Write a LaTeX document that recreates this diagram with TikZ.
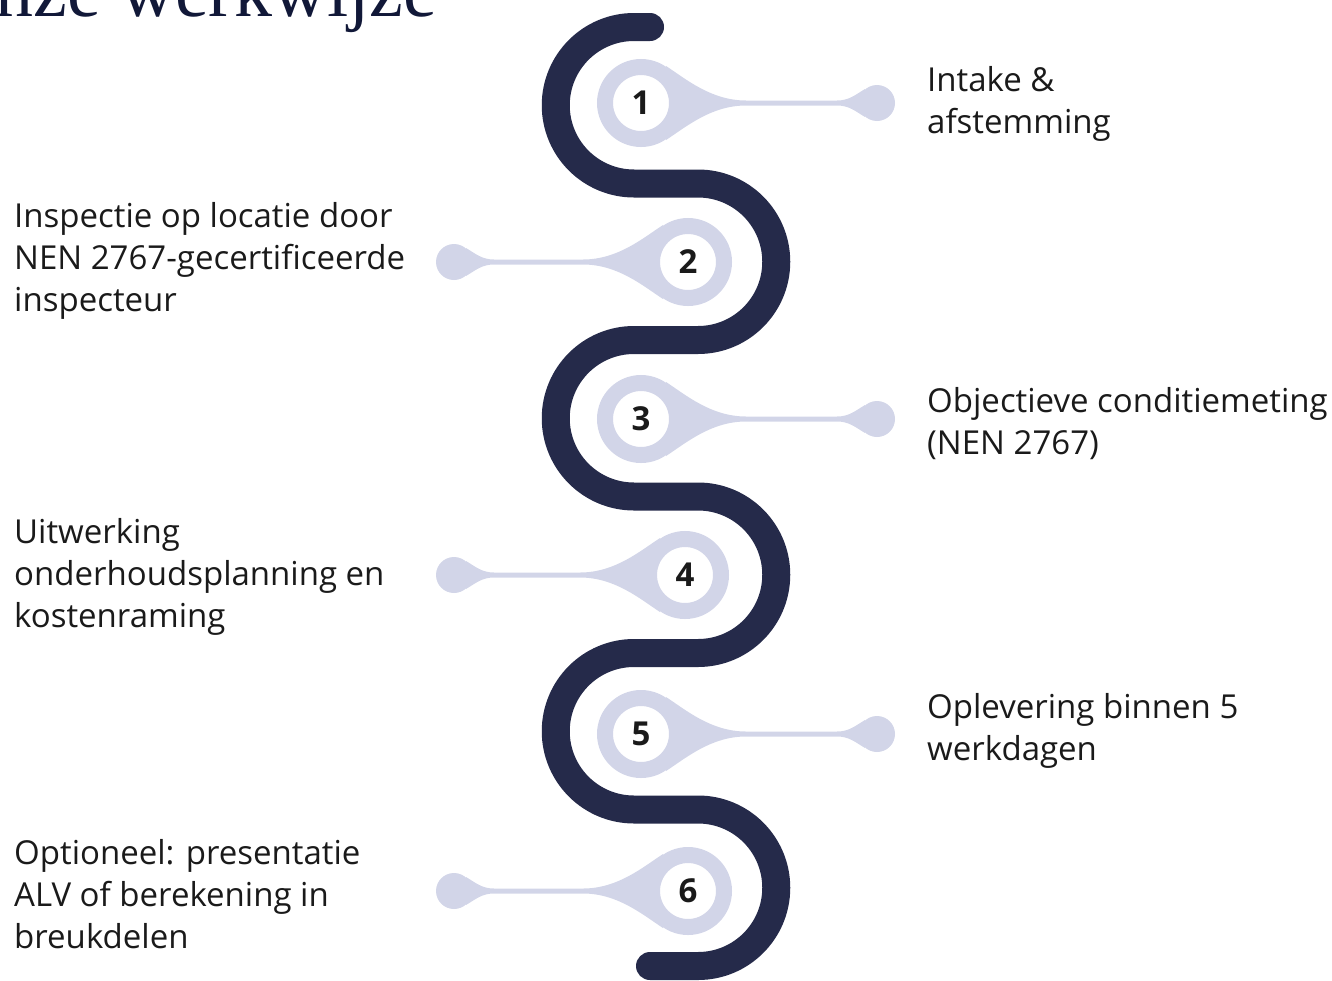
\documentclass[tikz,border=0pt]{standalone}
\usepackage{fontspec}
\setmainfont{Open Sans}
\newfontfamily\titlefont{Liberation Serif}
\usetikzlibrary{calc,backgrounds}
\definecolor{snakenavy}{RGB}{37,42,74}
\definecolor{ringlav}{RGB}{210,213,232}
\definecolor{textblack}{RGB}{26,26,26}
\definecolor{titlenavy}{RGB}{17,24,56}

\begin{document}
\begin{tikzpicture}[
  x=1pt, y=-1pt,
  snake/.style={line width=28pt, color=snakenavy, line cap=round},
  stepring/.style={circle, draw=ringlav, line width=16pt, fill=white, minimum size=72pt,
                   inner sep=0pt, font=\fontsize{33}{36}\selectfont\bfseries, text=textblack},
  blob/.style={circle, fill=ringlav, minimum size=36pt, inner sep=0pt},
  taper/.style={fill=ringlav},
  steptext/.style={anchor=west, align=left, inner sep=0pt,
                   font=\fontsize{33}{42}\selectfont, text=textblack}
]
\useasboundingbox (0,0) rectangle (1332,980);
\clip (0,0) rectangle (1332,980);

% title, cut off at the top
\node[anchor=base east, inner sep=0pt, text=titlenavy,
      font=\titlefont\fontsize{76}{80}\selectfont] (title) at (437,16) {nze werkwijze};

% the winding road
\draw[snake] (650,27) -- (634,27)
  arc[start angle=-90, end angle=-270, radius=78.25] -- (698,183.5)
  arc[start angle=-90, end angle=90, radius=78.25] -- (634,340)
  arc[start angle=-90, end angle=-270, radius=78.25] -- (698,496.5)
  arc[start angle=-90, end angle=90, radius=78.25] -- (634,653)
  arc[start angle=-90, end angle=-270, radius=78.25] -- (698,809.5)
  arc[start angle=-90, end angle=90, radius=78.25] -- (650,966);

% steps: ring, end blob and the tapered stem between them
\foreach \i/\x/\y/\ex/\d in {1/641/103/877/1, 2/688/262/454/-1, 3/641/419/877/1,
                             4/685/575/454/-1, 5/641/734/877/1, 6/688/891/454/-1}{
  \node[blob] (e\i) at (\ex,\y) {};
  \node[stepring] (s\i) at (\x,\y) {\i};
  \begin{scope}[on background layer]
    \fill[taper] ($(s\i)+(25*\d,-37)$)
      .. controls ($(s\i)+(45*\d,-24)$) and ($(s\i)+(70*\d,-2.5)$) .. ($(s\i)+(105*\d,-2.5)$)
      -- ($(e\i)+(-40*\d,-2.5)$)
      .. controls ($(e\i)+(-28*\d,-2.5)$) and ($(e\i)+(-22*\d,-8)$) .. ($(e\i)+(-12*\d,-14)$)
      -- ($(e\i)+(-12*\d,14)$)
      .. controls ($(e\i)+(-22*\d,8)$) and ($(e\i)+(-28*\d,2.5)$) .. ($(e\i)+(-40*\d,2.5)$)
      -- ($(s\i)+(105*\d,2.5)$)
      .. controls ($(s\i)+(70*\d,2.5)$) and ($(s\i)+(45*\d,24)$) .. ($(s\i)+(25*\d,37)$)
      -- cycle;
  \end{scope}
}

% labels
\node[steptext] (t1) at (927,104) {Intake \&\\afstemming};
\node[steptext] (t2) at (14,261)  {Inspectie op locatie door\\NEN 2767-gecertificeerde\\inspecteur};
\node[steptext] (t3) at (927,424) {Objectieve conditiemeting\\(NEN 2767)};
\node[steptext] (t4) at (14,577)  {Uitwerking\\onderhoudsplanning en\\kostenraming};
\node[steptext] (t5) at (927,731) {Oplevering binnen 5\\werkdagen};
\node[steptext] (t6) at (14,894)  {Optioneel: presentatie\\ALV of berekening in\\breukdelen};

\end{tikzpicture}
\end{document}
